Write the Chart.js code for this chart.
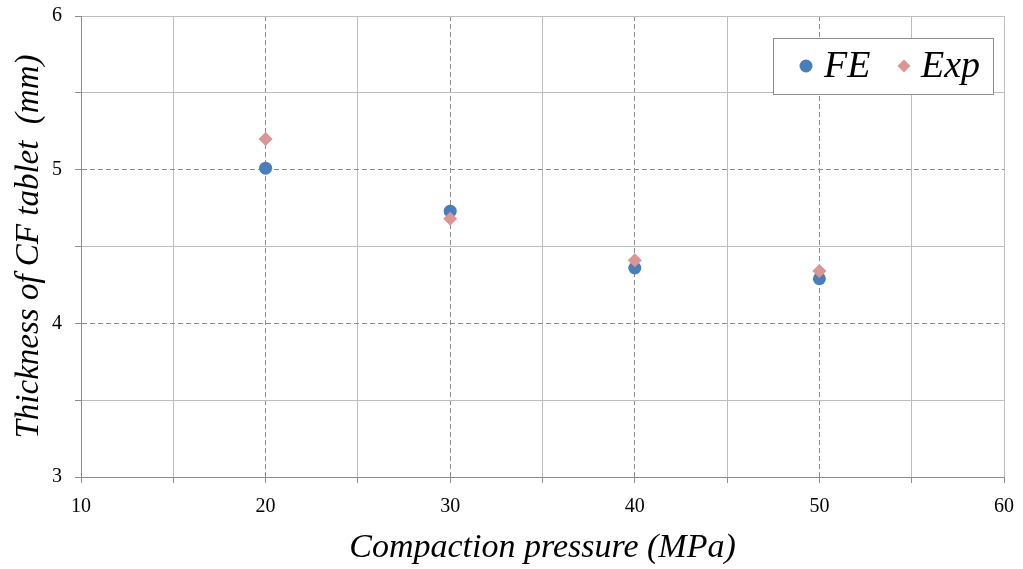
<!DOCTYPE html>
<html>
<head>
<meta charset="utf-8">
<script src="https://cdn.jsdelivr.net/npm/chart.js@4"></script>
<style>
  body { margin: 0; background: #fff; }
  #wrap { width: 1023px; height: 569px; }
</style>
</head>
<body>
<div id="wrap"><canvas id="chart" width="1023" height="569"></canvas></div>
<script>
const pressures = [20, 30, 40, 50];
const feThickness = [5.01, 4.73, 4.36, 4.29];
const expThickness = [5.20, 4.68, 4.41, 4.34];
const seriesLabels = ["FE", "Exp"];
const xTitle = "Compaction pressure (MPa)";
const yTitle = "Thickness of CF tablet  (mm)";

const serif = '"Times New Roman", "Liberation Serif", serif';
const feColor = "#4a7ebb";
const expColor = "#d99694";

const isMajor = (v, step) => Math.abs(v / step - Math.round(v / step)) < 1e-6;

// dashed at inner major ticks, solid elsewhere
const gridDash = (step, min, max) => (ctx) => {
  const v = ctx.tick ? ctx.tick.value : null;
  if (v == null) return [];
  if (isMajor(v, step) && v > min && v < max) return [5, 3];
  return [];
};
const gridColor = (step, min, max) => (ctx) => {
  const v = ctx.tick ? ctx.tick.value : null;
  if (v != null && isMajor(v, step) && v > min && v < max) return "#8c8c8c";
  return "#bdbdbd";
};

// legend with a frame, drawn on top of the plot
const boxedLegend = {
  id: "boxedLegend",
  afterDatasetsDraw(chart) {
    const {ctx, chartArea} = chart;
    const x = chartArea.right - 231, y = chartArea.top + 22, w = 220, h = 56;
    ctx.save();
    ctx.fillStyle = "#fff";
    ctx.fillRect(x, y, w, h);
    ctx.strokeStyle = "#8c8c8c";
    ctx.lineWidth = 1;
    ctx.strokeRect(x + 0.5, y + 0.5, w, h);
    const cy = y + 29;
    ctx.font = "italic 38px " + serif;
    ctx.textBaseline = "middle";
    // FE
    ctx.fillStyle = feColor;
    ctx.beginPath();
    ctx.arc(x + 33, cy - 1, 6.5, 0, Math.PI * 2);
    ctx.fill();
    ctx.fillStyle = "#000";
    ctx.fillText(seriesLabels[0], x + 51, cy);
    // Exp
    ctx.fillStyle = expColor;
    ctx.beginPath();
    ctx.moveTo(x + 131, cy - 7.5);
    ctx.lineTo(x + 137.5, cy - 1);
    ctx.lineTo(x + 131, cy + 5.5);
    ctx.lineTo(x + 124.5, cy - 1);
    ctx.closePath();
    ctx.fill();
    ctx.fillStyle = "#000";
    ctx.fillText(seriesLabels[1], x + 148, cy);
    ctx.restore();
  }
};

new Chart(document.getElementById("chart"), {
  type: "scatter",
  data: {
    datasets: [
      {
        label: seriesLabels[0],
        data: pressures.map((p, i) => ({x: p, y: feThickness[i]})),
        pointStyle: "circle",
        pointRadius: 6.5,
        pointHoverRadius: 6.5,
        backgroundColor: feColor,
        borderColor: feColor,
        borderWidth: 0,
        order: 1
      },
      {
        label: seriesLabels[1],
        data: pressures.map((p, i) => ({x: p, y: expThickness[i]})),
        pointStyle: "rectRot",
        pointRadius: 7,
        pointHoverRadius: 7,
        backgroundColor: expColor,
        borderColor: expColor,
        borderWidth: 0,
        order: 0
      }
    ]
  },
  options: {
    responsive: false,
    animation: false,
    layout: { padding: { top: 16, right: 19, left: 0, bottom: 0 } },
    plugins: {
      legend: { display: false },
      tooltip: { enabled: false }
    },
    scales: {
      x: {
        type: "linear",
        min: 10,
        max: 60,
        afterFit: (scale) => {
          scale.height = 92;
          scale.paddingLeft = 0;
          scale.paddingRight = 0;
        },
        ticks: {
          stepSize: 5,
          autoSkip: false,
          maxRotation: 0,
          padding: 12,
          color: "#000",
          font: { family: serif, size: 20 },
          callback: (v) => (isMajor(v, 10) ? v : "")
        },
        grid: {
          color: gridColor(10, 10, 60),
          tickColor: "#8c8c8c",
          tickLength: 6,
          lineWidth: 1
        },
        border: { color: "#8c8c8c", width: 1, dash: gridDash(10, 10, 60) },
        title: {
          display: true,
          text: xTitle,
          color: "#000",
          font: { family: serif, size: 34, style: "italic" },
          padding: { top: 0, bottom: 1 }
        }
      },
      y: {
        type: "linear",
        min: 3,
        max: 6,
        afterFit: (scale) => {
          scale.width = 81;
          scale.paddingTop = 0;
          scale.paddingBottom = 0;
        },
        ticks: {
          stepSize: 0.5,
          autoSkip: false,
          padding: 13,
          color: "#000",
          font: { family: serif, size: 20 },
          callback: (v) => (isMajor(v, 1) ? v : "")
        },
        grid: {
          color: gridColor(1, 3, 6),
          tickColor: "#8c8c8c",
          tickLength: 6,
          lineWidth: 1
        },
        border: { color: "#8c8c8c", width: 1, dash: gridDash(1, 3, 6) },
        title: {
          display: true,
          text: yTitle,
          color: "#000",
          font: { family: serif, size: 33, style: "italic" },
          padding: { top: 10, bottom: 0 }
        }
      }
    }
  },
  plugins: [boxedLegend]
});
</script>
</body>
</html>
